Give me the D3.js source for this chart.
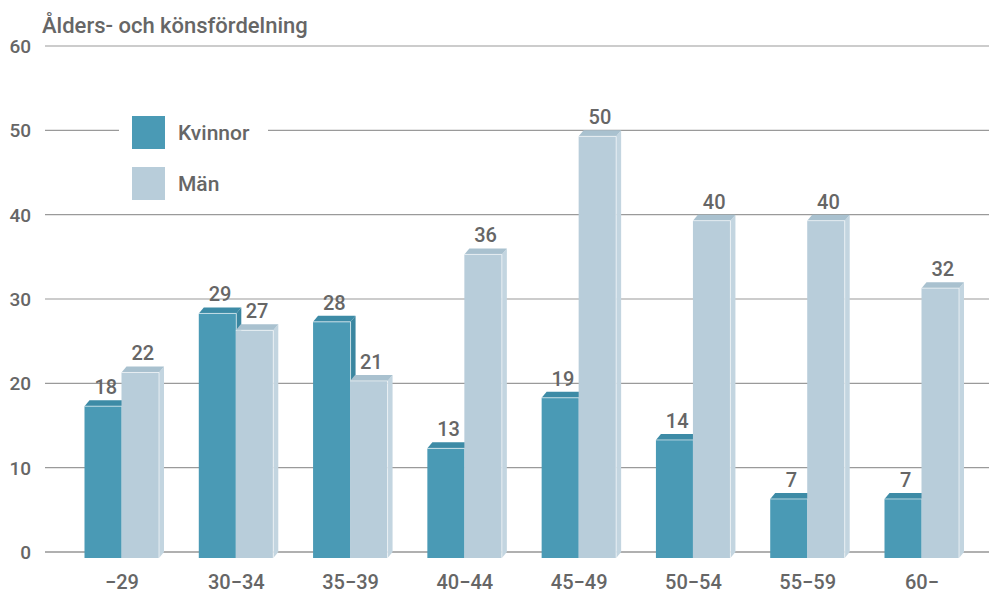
<!DOCTYPE html>
<html>
<head>
<meta charset="utf-8">
<script src="https://cdn.jsdelivr.net/npm/d3@7"></script>
<style>
  body { margin: 0; background: #fff; }
  text { font-family: Roboto, "Noto Sans", sans-serif; fill: #666; font-weight: 500; }
</style>
</head>
<body>
<div id="chart"></div>
<script>
var categories = ["\u221229", "30\u221234", "35\u221239", "40\u221244", "45\u221249", "50\u221254", "55\u221259", "60\u2212"];
var kvinnor = [18, 29, 28, 13, 19, 14, 7, 7];
var man = [22, 27, 21, 36, 50, 40, 40, 32];
var yTicks = [0, 10, 20, 30, 40, 50, 60];
var seriesNames = ["Kvinnor", "M\u00e4n"];

var width = 989, height = 594,
    depthX = 5, depthY = 6;

var colors = {
  "Kvinnor": { front: "#4a9ab5", top: "#3d8ba6", side: "#3a86a0" },
  "M\u00e4n":   { front: "#b8cdda", top: "#a9c1cf", side: "#c3d5e0" }
};

var svg = d3.select("#chart").append("svg")
    .attr("width", width)
    .attr("height", height);

var y = d3.scaleLinear().domain([0, 60]).range([552, 46]);
var x = d3.scalePoint().domain(categories).range([122, 922]);
var xs = d3.scaleBand().domain(seriesNames).range([-37, 37]);

// gridlines
svg.append("g").selectAll("line").data(yTicks).enter()
   .append("line")
   .attr("x1", 45).attr("x2", width)
   .attr("y1", function (d) { return y(d); })
   .attr("y2", function (d) { return y(d); })
   .attr("stroke", function (d) { return d === 0 ? "#b0b0b0" : "#9a9a9a"; })
   .attr("stroke-width", function (d) { return d === 0 ? 2 : 1.2; });

svg.append("g").selectAll("text").data(yTicks).enter()
   .append("text")
   .attr("x", 31)
   .attr("y", function (d) { return y(d); })
   .attr("dy", "0.36em")
   .attr("text-anchor", "end")
   .style("font-size", "19px")
   .text(function (d) { return d; });

svg.append("text")
   .attr("x", 42).attr("y", 33)
   .style("font-size", "22px")
   .text("\u00c5lders- och k\u00f6nsf\u00f6rdelning");

// legend box hides the 50 gridline
svg.append("rect")
   .attr("x", 119).attr("y", 110).attr("width", 149).attr("height", 95)
   .attr("fill", "#fff");

var legend = svg.append("g").selectAll("g").data(seriesNames).enter()
   .append("g")
   .attr("transform", function (d, i) { return "translate(132," + (116 + i * 51) + ")"; });
legend.append("rect")
   .attr("width", 33).attr("height", 33)
   .attr("fill", function (d) { return colors[d].front; });
legend.append("text")
   .attr("x", 46).attr("y", 16.5).attr("dy", "0.36em")
   .style("font-size", "21px")
   .text(function (d) { return d; });

var bars = [];
categories.forEach(function (c, i) {
  bars.push({ cat: c, s: "Kvinnor", v: kvinnor[i] });
  bars.push({ cat: c, s: "M\u00e4n", v: man[i] });
});

function _pts(arr) { return arr.map(function (p) { return p.join(","); }).join(" "); }

var g = svg.append("g").selectAll("g.bar").data(bars).enter()
   .append("g").attr("class", "bar");

g.each(function (d) {
  var el = d3.select(this),
      x0 = x(d.cat) + xs(d.s) - 0.5,
      w = xs.bandwidth() + 0.5,
      yv = y(d.v), y0 = y(0),
      c = colors[d.s];

  el.append("polygon")
    .attr("points", _pts([[x0 + w, yv + depthY], [x0 + w + depthX, yv], [x0 + w + depthX, y0], [x0 + w, y0 + depthY]]))
    .attr("fill", c.side);
  el.append("polygon")
    .attr("points", _pts([[x0, yv + depthY], [x0 + depthX, yv], [x0 + w + depthX, yv], [x0 + w, yv + depthY]]))
    .attr("fill", c.top);
  el.append("rect")
    .attr("x", x0).attr("y", yv + depthY)
    .attr("width", w).attr("height", y0 - yv)
    .attr("fill", c.front);
  el.append("polyline")
    .attr("points", _pts([[x0, yv + depthY], [x0 + w, yv + depthY], [x0 + w, y0 + depthY]]))
    .attr("fill", "none")
    .attr("stroke", "rgba(255,255,255,0.6)")
    .attr("stroke-width", 1);
  el.append("text")
    .attr("x", x0 + w / 2 + depthX / 2)
    .attr("y", yv - 6)
    .attr("text-anchor", "middle")
    .style("font-size", "20px")
    .text(d.v);
});

svg.append("g").selectAll("text").data(categories).enter()
   .append("text")
   .attr("x", function (d) { return x(d); })
   .attr("y", 589)
   .attr("text-anchor", "middle")
   .style("font-size", "20px")
   .text(function (d) { return d; });
</script>
</body>
</html>
